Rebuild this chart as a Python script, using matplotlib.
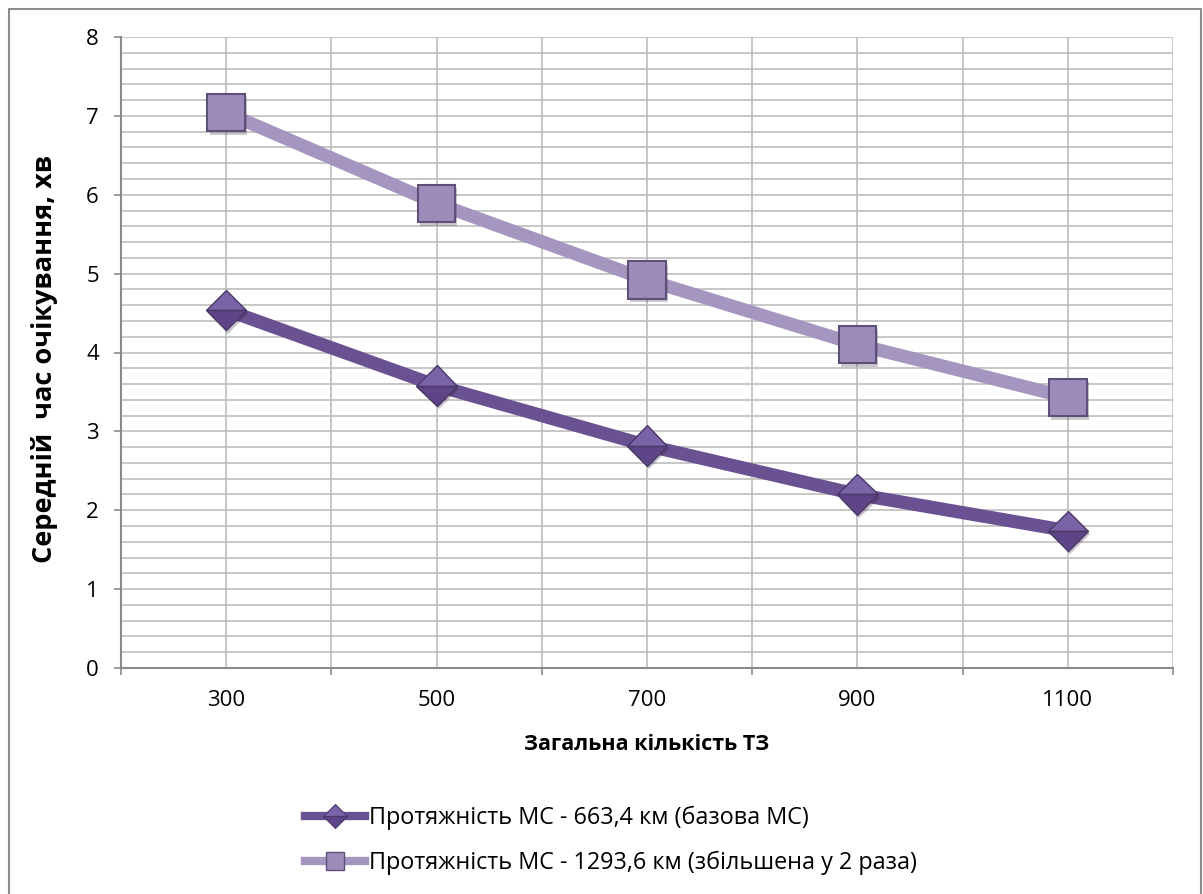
import numpy as np
import matplotlib.pyplot as plt
import matplotlib.patheffects as pe
from matplotlib.lines import Line2D

plt.rcParams['font.family'] = ['Open Sans', 'DejaVu Sans']

# data
categories = ['300', '500', '700', '900', '1100']
base_wait = [4.54, 3.58, 2.82, 2.20, 1.74]
doubled_wait = [7.04, 5.89, 4.92, 4.10, 3.43]
series_names = ['Протяжність МС - 663,4 км (базова МС)',
                'Протяжність МС - 1293,6 км (збільшена у 2 раза)']

dark = '#6a5192'
dark_top = '#7a63a6'
dark_bot = '#5d4587'
dark_edge = '#4a3868'
light = '#a496be'
light_fill = '#9d8cbb'
light_edge = '#5d4f78'
grid_c = '#bdbdbd'
axis_c = '#8a8a8a'

fig = plt.figure(figsize=(12.03, 8.94), dpi=100)
ax = fig.add_axes([121 / 1203, 1 - 668 / 894, (1173 - 121) / 1203, (668 - 37) / 894])

x = np.arange(len(categories))
shadow = [pe.SimplePatchShadow(offset=(1.5, -2.5), alpha=0.25), pe.Normal()]

ax.plot(x, doubled_wait, color=light, lw=9.5, solid_capstyle='butt', zorder=3)
ax.plot(x, doubled_wait, ls='none', marker='s', ms=27, mfc=light_fill,
        mec=light_edge, mew=1.5, zorder=4, path_effects=shadow)
ax.plot(x, base_wait, color=dark, lw=9.5, solid_capstyle='butt', zorder=3)
ax.plot(x, base_wait, ls='none', marker='D', ms=20.5, fillstyle='top',
        mfc=dark_top, mfcalt=dark_bot, mec=dark_edge, mew=1.0, zorder=4,
        path_effects=shadow)

ax.set_xlim(-0.5, len(categories) - 0.5)
ax.set_ylim(0, 8)

# category boundaries get the tick marks, centres get the labels
ax.set_xticks(np.arange(-0.5, len(categories), 1.0))
ax.set_xticklabels([])
ax.set_xticks(x, minor=True)
ax.set_xticklabels(categories, minor=True)
ax.set_yticks(range(9))
ax.set_yticks(np.arange(0, 8.01, 0.2), minor=True)

ax.tick_params(axis='both', which='major', length=5, width=1.2, color=axis_c,
               direction='out', labelsize=16)
ax.tick_params(axis='both', which='minor', length=0, labelsize=16)
ax.tick_params(axis='x', which='minor', pad=16)
ax.tick_params(axis='y', which='major', pad=11)

ax.grid(True, which='both', color=grid_c, lw=1.2)
ax.set_axisbelow(True)
for s in ['top', 'right']:
    ax.spines[s].set_visible(False)
for s in ['left', 'bottom']:
    ax.spines[s].set_color(axis_c)
    ax.spines[s].set_linewidth(1.5)

ax.set_xlabel('Загальна кількість ТЗ', fontsize=15.5, fontweight='bold', va='center')
ax.xaxis.set_label_coords(0.5, (668 - 745) / 631)
ax.set_ylabel('Середній  час очікування, хв', fontsize=19.5, fontweight='bold', va='center')
ax.yaxis.set_label_coords((45 - 121) / 1052, 0.49)

handles = [
    Line2D([], [], color=dark, lw=6, marker='D', ms=12, fillstyle='top',
           mfc=dark_top, mfcalt=dark_bot, mec=dark_edge, mew=0.8),
    Line2D([], [], color=light, lw=6, marker='s', ms=13, mfc=light_fill, mec=light_edge),
]
fig.legend(handles, series_names, loc='upper left', bbox_to_anchor=(305 / 1203, 1 - 806 / 894),
           frameon=False, fontsize=16.8, handlelength=2.55, handletextpad=0.2,
           labelspacing=0.87, borderaxespad=0, borderpad=0)

# chart border
fig.add_artist(Line2D([9 / 1203, 9 / 1203, 1201 / 1203, 1201 / 1203],
                      [0, 1 - 9 / 894, 1 - 9 / 894, 0],
                      transform=fig.transFigure, color='#8c8c8c', lw=1.5))

fig.savefig('out.png', dpi=100)
